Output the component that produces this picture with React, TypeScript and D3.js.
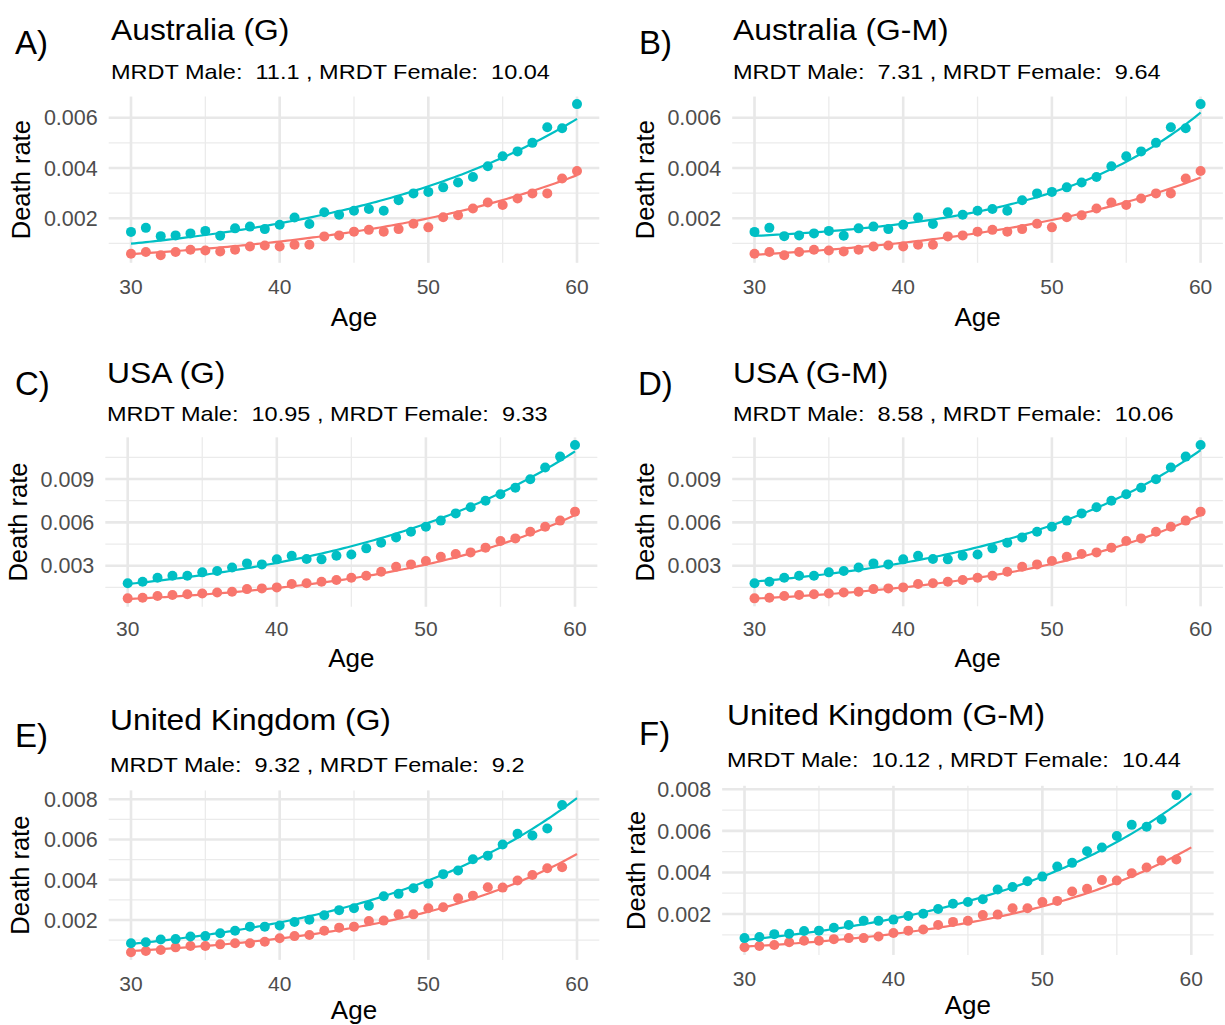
import React, { useEffect, useRef } from 'react';
import * as d3 from 'd3';

// ages on the x axis
const ages = [30, 31, 32, 33, 34, 35, 36, 37, 38, 39, 40, 41, 42, 43, 44, 45, 46, 47, 48, 49, 50, 51, 52, 53, 54, 55, 56, 57, 58, 59, 60];

const ausMale = [0.00146, 0.00162, 0.00129, 0.00132, 0.0014, 0.0015, 0.00131, 0.0016, 0.00167, 0.00157, 0.00174, 0.00203, 0.00177, 0.00224, 0.00214, 0.0023, 0.00237, 0.0023, 0.00272, 0.00299, 0.00305, 0.00323, 0.00342, 0.00364, 0.00407, 0.00447, 0.00466, 0.005, 0.00562, 0.00558, 0.00654];
const ausFemale = [0.00059, 0.00066, 0.00053, 0.00066, 0.00075, 0.00072, 0.00068, 0.00075, 0.00088, 0.00092, 0.00088, 0.00095, 0.00095, 0.00128, 0.00132, 0.00147, 0.00154, 0.00147, 0.00157, 0.00178, 0.00164, 0.00204, 0.00212, 0.00239, 0.00263, 0.00253, 0.00279, 0.00299, 0.00299, 0.00358, 0.00388];
const usaMale = [0.00178, 0.00189, 0.00217, 0.00231, 0.00231, 0.00254, 0.00263, 0.00288, 0.00316, 0.00309, 0.00344, 0.00369, 0.00346, 0.00344, 0.00369, 0.00378, 0.0042, 0.00459, 0.00496, 0.00535, 0.0057, 0.00612, 0.00662, 0.00704, 0.0075, 0.00794, 0.0084, 0.00898, 0.00979, 0.01055, 0.01135];
const usaFemale = [0.00074, 0.00078, 0.0009, 0.00097, 0.00102, 0.00108, 0.00115, 0.0012, 0.00138, 0.00143, 0.0015, 0.00173, 0.00178, 0.00189, 0.00201, 0.00217, 0.00231, 0.00258, 0.00293, 0.00309, 0.00332, 0.00362, 0.00381, 0.00392, 0.00425, 0.00471, 0.00489, 0.00535, 0.0057, 0.00612, 0.00674];
// UK series stop at 59
const ukMale = [0.00084, 0.00089, 0.00103, 0.00105, 0.00118, 0.0012, 0.00134, 0.00147, 0.00167, 0.00167, 0.00173, 0.0019, 0.00201, 0.00224, 0.00249, 0.00258, 0.00271, 0.00318, 0.0033, 0.00358, 0.0038, 0.00428, 0.00446, 0.00502, 0.0052, 0.00575, 0.00629, 0.0062, 0.00655, 0.00772];
const ukFemale = [0.0004, 0.00046, 0.00051, 0.00064, 0.00071, 0.00071, 0.00079, 0.00084, 0.00084, 0.00092, 0.00109, 0.0012, 0.00125, 0.00147, 0.00162, 0.00167, 0.00195, 0.00197, 0.00228, 0.00228, 0.00258, 0.00263, 0.00308, 0.00321, 0.00363, 0.00361, 0.00396, 0.00424, 0.00457, 0.00462];

// fitted curves: mu(x) = c + a * exp(b * (x - 30))   [c, a, b]
const fitAusGMale = [0, 0.00099, 0.0598];
const fitAusGFemale = [0, 0.00058, 0.0619];
const fitAusGMMale = [0.00099, 0.00031, 0.0941];
const fitAusGMFemale = [0, 0.00055, 0.0628];
const fitUsaGMale = [0, 0.00173, 0.0614];
const fitUsaGFemale = [0, 0.00069, 0.0748];
const fitUsaGMMale = [0.0006, 0.0013, 0.0693];
const fitUsaGMFemale = [0, 0.00072, 0.0734];
const fitUkGMale = [-0.0003, 0.00111, 0.0673];
const fitUkGFemale = [-0.00008, 0.00054, 0.0765];
const fitUkGMMale = [-0.0003, 0.00105, 0.0681];
const fitUkGMFemale = [-0.0001, 0.00053, 0.0768];

// MRDT values shown in subtitles [male, female]
const mrdtAusG = ['11.1', '10.04'];
const mrdtAusGM = ['7.31', '9.64'];
const mrdtUsaG = ['10.95', '9.33'];
const mrdtUsaGM = ['8.58', '10.06'];
const mrdtUkG = ['9.32', '9.2'];
const mrdtUkGM = ['10.12', '10.44'];

const xTicks = [30, 40, 50, 60];
const xMinor = [35, 45, 55];
const yTicksSmall = [0.002, 0.004, 0.006];
const yTicksUsa = [0.003, 0.006, 0.009];
const yTicksUk = [0.002, 0.004, 0.006, 0.008];

const MALE = '#00BFC4';
const FEMALE = '#F8766D';
const FONT = 'Liberation Sans, Arial, sans-serif';

const panels = [
  { tag: 'A)', title: 'Australia (G)', mrdt: mrdtAusG, male: ausMale, female: ausFemale, fitM: fitAusGMale, fitF: fitAusGFemale, yTicks: yTicksSmall,
    x30: 131, x60: 577, yA: [0.002, 218.3], yB: [0.006, 117.7], tagPos: [15, 54], titlePos: [111, 40], subPos: [111, 79], tickY: 294, ageY: 326, yTitleX: 21 },
  { tag: 'B)', title: 'Australia (G-M)', mrdt: mrdtAusGM, male: ausMale, female: ausFemale, fitM: fitAusGMMale, fitF: fitAusGMFemale, yTicks: yTicksSmall,
    x30: 754.5, x60: 1200.6, yA: [0.002, 218.3], yB: [0.006, 117.7], tagPos: [639, 54], titlePos: [733, 40], subPos: [733, 79], tickY: 294, ageY: 326, yTitleX: 645 },
  { tag: 'C)', title: 'USA (G)', mrdt: mrdtUsaG, male: usaMale, female: usaFemale, fitM: fitUsaGMale, fitF: fitUsaGFemale, yTicks: yTicksUsa,
    x30: 127.7, x60: 575, yA: [0.003, 565.7], yB: [0.009, 479], tagPos: [15, 395], titlePos: [107, 383], subPos: [107, 421], tickY: 636, ageY: 667, yTitleX: 18 },
  { tag: 'D)', title: 'USA (G-M)', mrdt: mrdtUsaGM, male: usaMale, female: usaFemale, fitM: fitUsaGMMale, fitF: fitUsaGMFemale, yTicks: yTicksUsa,
    x30: 754.5, x60: 1200.6, yA: [0.003, 565.7], yB: [0.009, 479], tagPos: [638, 395], titlePos: [733, 383], subPos: [733, 421], tickY: 636, ageY: 667, yTitleX: 645 },
  { tag: 'E)', title: 'United Kingdom (G)', mrdt: mrdtUkG, male: ukMale, female: ukFemale, fitM: fitUkGMale, fitF: fitUkGFemale, yTicks: yTicksUk,
    x30: 131, x60: 577, yA: [0.002, 920], yB: [0.008, 799.3], tagPos: [15, 747], titlePos: [110, 730], subPos: [110, 772], tickY: 991, ageY: 1019, yTitleX: 20 },
  { tag: 'F)', title: 'United Kingdom (G-M)', mrdt: mrdtUkGM, male: ukMale, female: ukFemale, fitM: fitUkGMMale, fitF: fitUkGMFemale, yTicks: yTicksUk,
    x30: 744.5, x60: 1191.3, yA: [0.002, 914], yB: [0.008, 789.3], tagPos: [639, 745], titlePos: [727, 725], subPos: [727, 767], tickY: 986, ageY: 1014, yTitleX: 636 },
];

const App = () => {
  const svgRef = useRef<SVGSVGElement>(null);

  useEffect(() => {
    drawChart();
  }, []);

  const drawChart = () => {
    const svg = d3.select(svgRef.current);
    svg.selectAll('*').remove();

    panels.forEach((p) => {
      const g = svg.append('g');
      const x = d3.scaleLinear().domain([30, 60]).range([p.x30, p.x60]);
      const y = d3.scaleLinear().domain([p.yA[0], p.yB[0]]).range([p.yA[1], p.yB[1]]);

      const model = (f: number[], a: number) => f[0] + f[1] * Math.exp(f[2] * (a - 30));
      const fitAges = d3.range(30, 60.001, 0.25);
      const maleFit = fitAges.map((a) => [a, model(p.fitM, a)]);
      const femaleFit = fitAges.map((a) => [a, model(p.fitF, a)]);

      // ggplot style 5% expansion
      const allVals = [...p.male, ...p.female, ...maleFit.map((d) => d[1]), ...femaleFit.map((d) => d[1])];
      const [lo, hi] = d3.extent(allVals) as [number, number];
      const pad = (hi - lo) * 0.05;
      const top = y(hi + pad);
      const bottom = y(lo - pad);
      const left = x(28.5);
      const right = x(61.5);

      // minor grid
      const step = p.yTicks[1] - p.yTicks[0];
      const yMinor: number[] = [];
      for (let v = p.yTicks[0] - step / 2; v <= hi + pad; v += step) {
        if (v >= lo - pad) yMinor.push(v);
      }
      g.selectAll('.ymin').data(yMinor).enter().append('line')
        .attr('x1', left).attr('x2', right)
        .attr('y1', (d) => y(d)).attr('y2', (d) => y(d))
        .style('stroke', '#EBEBEB').style('stroke-width', 1.3);
      g.selectAll('.xmin').data(xMinor).enter().append('line')
        .attr('x1', (d) => x(d)).attr('x2', (d) => x(d))
        .attr('y1', top).attr('y2', bottom)
        .style('stroke', '#EBEBEB').style('stroke-width', 1.3);

      // major grid
      g.selectAll('.ymaj').data(p.yTicks).enter().append('line')
        .attr('x1', left).attr('x2', right)
        .attr('y1', (d) => y(d)).attr('y2', (d) => y(d))
        .style('stroke', '#E8E8E8').style('stroke-width', 2.6);
      g.selectAll('.xmaj').data(xTicks).enter().append('line')
        .attr('x1', (d) => x(d)).attr('x2', (d) => x(d))
        .attr('y1', top).attr('y2', bottom)
        .style('stroke', '#E8E8E8').style('stroke-width', 2.6);

      // fitted lines
      const line = d3.line<number[]>().x((d) => x(d[0])).y((d) => y(d[1]));
      g.append('path').attr('d', line(femaleFit)).style('fill', 'none').style('stroke', FEMALE).style('stroke-width', 2.2);
      g.append('path').attr('d', line(maleFit)).style('fill', 'none').style('stroke', MALE).style('stroke-width', 2.2);

      // points
      g.selectAll('.pf').data(p.female).enter().append('circle')
        .attr('cx', (d, i) => x(ages[i])).attr('cy', (d) => y(d)).attr('r', 5)
        .style('fill', FEMALE);
      g.selectAll('.pm').data(p.male).enter().append('circle')
        .attr('cx', (d, i) => x(ages[i])).attr('cy', (d) => y(d)).attr('r', 5)
        .style('fill', MALE);

      // tick labels
      g.selectAll('.xt').data(xTicks).enter().append('text')
        .attr('x', (d) => x(d)).attr('y', p.tickY)
        .attr('text-anchor', 'middle')
        .style('font-family', FONT).style('font-size', '21px').style('fill', '#4D4D4D')
        .text((d) => d);
      g.selectAll('.yt').data(p.yTicks).enter().append('text')
        .attr('x', left - 11).attr('y', (d) => y(d)).attr('dy', '0.36em')
        .attr('text-anchor', 'end')
        .style('font-family', FONT).style('font-size', '21.5px').style('fill', '#4D4D4D')
        .text((d) => d3.format('.3f')(d));

      // axis titles
      g.append('text')
        .attr('x', (x(30) + x(60)) / 2).attr('y', p.ageY)
        .attr('text-anchor', 'middle')
        .style('font-family', FONT).style('font-size', '26px').style('fill', '#000')
        .text('Age');
      const cy = (top + bottom) / 2;
      g.append('text')
        .attr('transform', `translate(${p.yTitleX},${cy}) rotate(-90)`)
        .attr('dy', '0.36em')
        .attr('text-anchor', 'middle')
        .style('font-family', FONT).style('font-size', '25.5px').style('fill', '#000')
        .text('Death rate');

      // panel tag, title, subtitle (reference text is slightly wide, so stretch horizontally)
      g.append('text')
        .attr('x', p.tagPos[0]).attr('y', p.tagPos[1])
        .style('font-family', FONT).style('font-size', '33px').style('fill', '#000')
        .text(p.tag);
      g.append('text')
        .attr('transform', `translate(${p.titlePos[0]},${p.titlePos[1]}) scale(1.06,1)`)
        .style('font-family', FONT).style('font-size', '30px').style('fill', '#000')
        .text(p.title);
      g.append('text')
        .attr('transform', `translate(${p.subPos[0]},${p.subPos[1]}) scale(1.12,1)`)
        .attr('xml:space', 'preserve')
        .style('white-space', 'pre')
        .style('font-family', FONT).style('font-size', '21px').style('fill', '#000')
        .text(`MRDT Male:  ${p.mrdt[0]} , MRDT Female:  ${p.mrdt[1]}`);
    });
  };

  return (
    <svg
      ref={svgRef}
      width={1225}
      height={1025}
      style={{ position: 'absolute', left: 0, top: 0, background: '#fff' }}
    />
  );
};

export default App;
